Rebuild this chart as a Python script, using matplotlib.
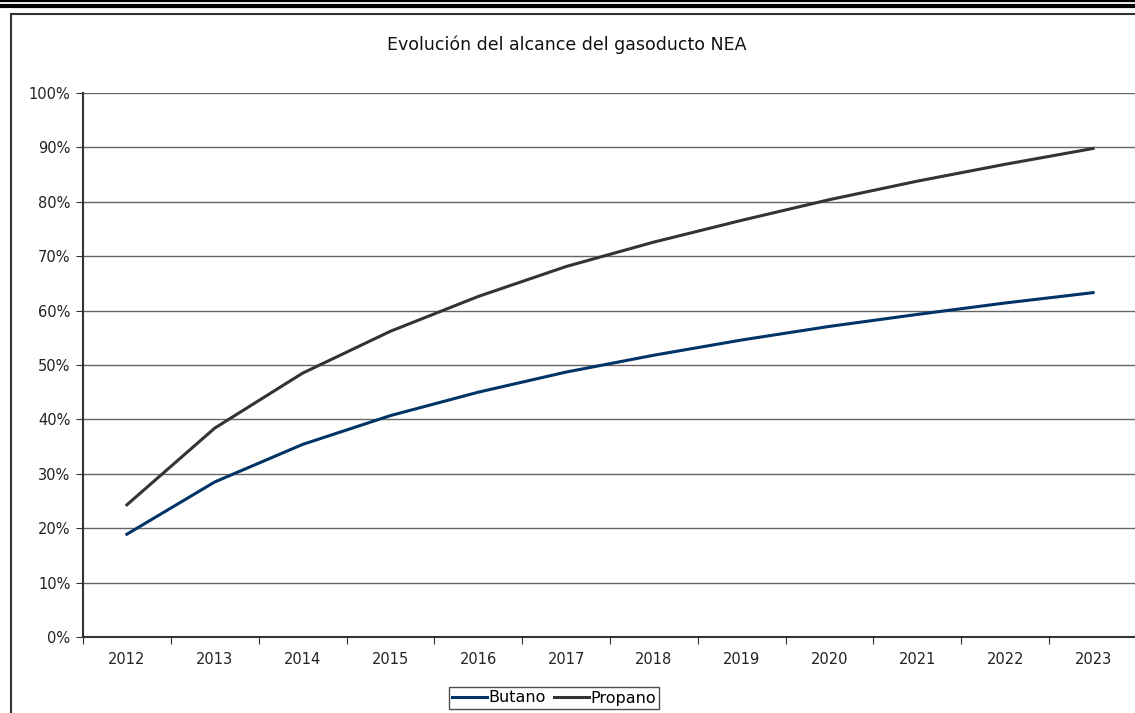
import matplotlib
matplotlib.use("Agg")
import matplotlib.pyplot as plt
from matplotlib.lines import Line2D
from matplotlib.patches import Rectangle
import numpy as np

anios = ["2012", "2013", "2014", "2015", "2016", "2017",
         "2018", "2019", "2020", "2021", "2022", "2023"]
butano = [18.9, 28.5, 35.4, 40.7, 45.0, 48.7, 51.8, 54.6, 57.1, 59.3, 61.4, 63.3]
propano = [24.3, 38.4, 48.5, 56.2, 62.6, 68.1, 72.6, 76.6, 80.4, 83.8, 86.9, 89.8]

plt.rcParams['font.family'] = ['DejaVu Sans']

W, H = 1135, 713
fig = plt.figure(figsize=(W / 100, H / 100), dpi=100)

# double line at the very top + chart frame
fig.add_artist(Line2D([0, 1], [1 - 1 / H, 1 - 1 / H], color="black", lw=1.6, transform=fig.transFigure))
fig.add_artist(Line2D([0, 1], [1 - 6 / H, 1 - 6 / H], color="black", lw=3.0, transform=fig.transFigure))
fig.add_artist(Rectangle((10.5 / W, -0.05), 1.2, 1 - 13.5 / H + 0.05, fill=False,
                         edgecolor="#333333", lw=1.5, transform=fig.transFigure))

ax = fig.add_axes([83 / W, 1 - 637 / H, (1137 - 83) / W, (637 - 93) / H])
x = np.arange(len(anios))
ax.plot(x, butano, color="#003366", lw=2.2, label="Butano", solid_joinstyle="round")
ax.plot(x, propano, color="#333333", lw=2.2, label="Propano", solid_joinstyle="round")

ax.set_xlim(-0.5, len(anios) - 0.5)
ax.set_ylim(0, 100)
ax.set_yticks(range(0, 101, 10))
ax.set_yticklabels([f"{v}%" for v in range(0, 101, 10)], fontsize=10.5, color="#222222")
ax.yaxis.grid(True, color="#666666", lw=1.0)
ax.set_axisbelow(True)

ax.set_xticks(np.arange(-0.5, len(anios), 1.0))
ax.set_xticklabels([])
ax.set_xticks(x, minor=True)
ax.set_xticklabels(anios, minor=True, fontsize=10.5, color="#222222")
ax.tick_params(axis="x", which="major", length=5, direction="out", color="#333333")
ax.tick_params(axis="x", which="minor", length=0, pad=11)
ax.tick_params(axis="y", length=5, direction="out", color="#333333", pad=4)

for s in ["top", "right"]:
    ax.spines[s].set_visible(False)
for s in ["left", "bottom"]:
    ax.spines[s].set_color("#333333")
    ax.spines[s].set_linewidth(1.5)

fig.text(567 / W, 1 - 45 / H, "Evolución del alcance del gasoducto NEA",
         ha="center", va="center", fontsize=12.5, color="#111111")

leg = fig.legend(loc="center", bbox_to_anchor=(554 / W, 1 - 698 / H), ncol=2,
                 fontsize=11.5, frameon=True, fancybox=False, handlelength=2.2,
                 handletextpad=0.1, columnspacing=0.5, borderpad=0.2,
                 borderaxespad=0)
leg.get_frame().set_edgecolor("#222222")
leg.get_frame().set_linewidth(1.0)

fig.savefig("out.png", dpi=100)
